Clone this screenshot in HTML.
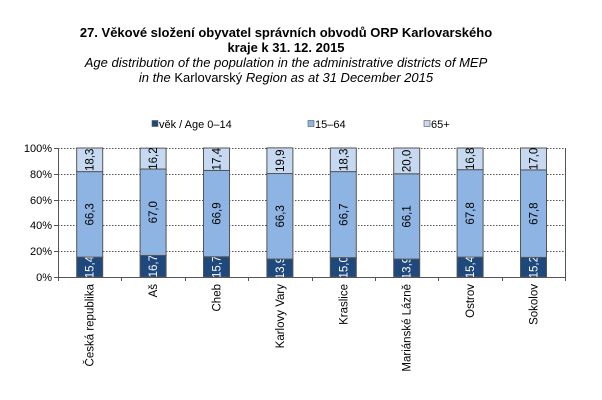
<!DOCTYPE html>
<html><head><meta charset="utf-8"><style>
html,body{margin:0;padding:0;background:#fff}
svg{display:block;font-family:"Liberation Sans",Arial,sans-serif}
</style></head><body>
<svg width="602" height="400" viewBox="0 0 602 400" xmlns="http://www.w3.org/2000/svg">
<rect width="602" height="400" fill="#fff"/>
<g text-anchor="middle" fill="#000">
<text x="286" y="37" font-size="13" font-weight="bold">27. Věkové složení obyvatel správních obvodů ORP Karlovarského</text>
<text x="286" y="52" font-size="13" font-weight="bold">kraje k 31. 12. 2015</text>
<text x="286" y="67" font-size="13" font-style="italic">Age distribution of the population in the administrative districts of MEP</text>
<text x="286" y="82" font-size="13"><tspan font-style="italic">in the</tspan> Karlovarský <tspan font-style="italic">Region as at 31 December 2015</tspan></text>
</g>
<g font-size="11">
<rect x="152" y="120.5" width="6" height="6" fill="#1f497d" stroke="#555" stroke-width="0.6"/><text x="159" y="128">věk / Age 0–14</text>
<rect x="308" y="120.5" width="6" height="6" fill="#8eb4e3" stroke="#555" stroke-width="0.6"/><text x="315" y="128">15–64</text>
<rect x="424" y="120.5" width="6" height="6" fill="#c6d9f1" stroke="#555" stroke-width="0.6"/><text x="431" y="128">65+</text>
</g>
<g stroke="#555" stroke-width="1" stroke-dasharray="1.5,1.5">
<line x1="58" y1="148.5" x2="565" y2="148.5"/>
<line x1="58" y1="174.5" x2="565" y2="174.5"/>
<line x1="58" y1="200.5" x2="565" y2="200.5"/>
<line x1="58" y1="225.5" x2="565" y2="225.5"/>
<line x1="58" y1="251.5" x2="565" y2="251.5"/>
</g>
<g font-size="11" text-anchor="end">
<text x="52" y="152">100%</text><text x="52" y="178">80%</text><text x="52" y="204">60%</text>
<text x="52" y="229">40%</text><text x="52" y="255">20%</text><text x="52" y="281">0%</text>
</g>
<g id="bars"></g>
<line x1="58.5" y1="148" x2="58.5" y2="277" stroke="#555"/>
<line x1="565.5" y1="148" x2="565.5" y2="277" stroke="#555"/>
<line x1="54" y1="277.5" x2="566" y2="277.5" stroke="#555"/>
<line x1="54" y1="148.5" x2="58" y2="148.5" stroke="#555"/>
<line x1="54" y1="174.5" x2="58" y2="174.5" stroke="#555"/>
<line x1="54" y1="200.5" x2="58" y2="200.5" stroke="#555"/>
<line x1="54" y1="225.5" x2="58" y2="225.5" stroke="#555"/>
<line x1="54" y1="251.5" x2="58" y2="251.5" stroke="#555"/>
<g id="ticks" stroke="#555"></g>
<g id="labels" font-size="11.5"></g>
</svg>
<script>
var d=[["Česká republika",15.4,66.3,18.3],["Aš",16.7,67.0,16.2],["Cheb",15.7,66.9,17.4],["Karlovy Vary",13.9,66.3,19.9],["Kraslice",15.0,66.7,18.3],["Mariánské Lázně",13.9,66.1,20.0],["Ostrov",15.4,67.8,16.8],["Sokolov",15.2,67.8,17.0]];
var ns="http://www.w3.org/2000/svg",B=document.getElementById("bars"),T=document.getElementById("ticks"),L=document.getElementById("labels");
function el(p,t,a,txt){var e=document.createElementNS(ns,t);for(var k in a)e.setAttribute(k,a[k]);if(txt)e.textContent=txt;p.appendChild(e);return e;}
var x0=58,w=63.4,bot=277,h=129,bw=26;
for(var i=0;i<=8;i++){var tx=Math.round(x0+i*w)+0.5;el(T,"line",{x1:tx,y1:277,x2:tx,y2:281});}
d.forEach(function(r,i){var cx=x0+w*(i+0.5),x=cx-bw/2,y=bot;var cols=["#1f497d","#8eb4e3","#c6d9f1"];var tc=["#fff","#000","#000"];
for(var j=0;j<3;j++){var hh=r[j+1]/100*h;y-=hh;el(B,"rect",{x:x,y:y,width:bw,height:hh,fill:cols[j],stroke:"#555","stroke-width":1});
var my=y+hh/2;el(B,"text",{x:0,y:0,transform:"translate("+(cx+4)+","+my+") rotate(-90)","text-anchor":"middle","font-size":"11.5",fill:tc[j]},r[j+1].toFixed(1).replace(".",","));}
el(L,"text",{x:0,y:0,transform:"translate("+(cx+4)+",284) rotate(-90)","text-anchor":"end"},r[0]);});
</script>
</body></html>
